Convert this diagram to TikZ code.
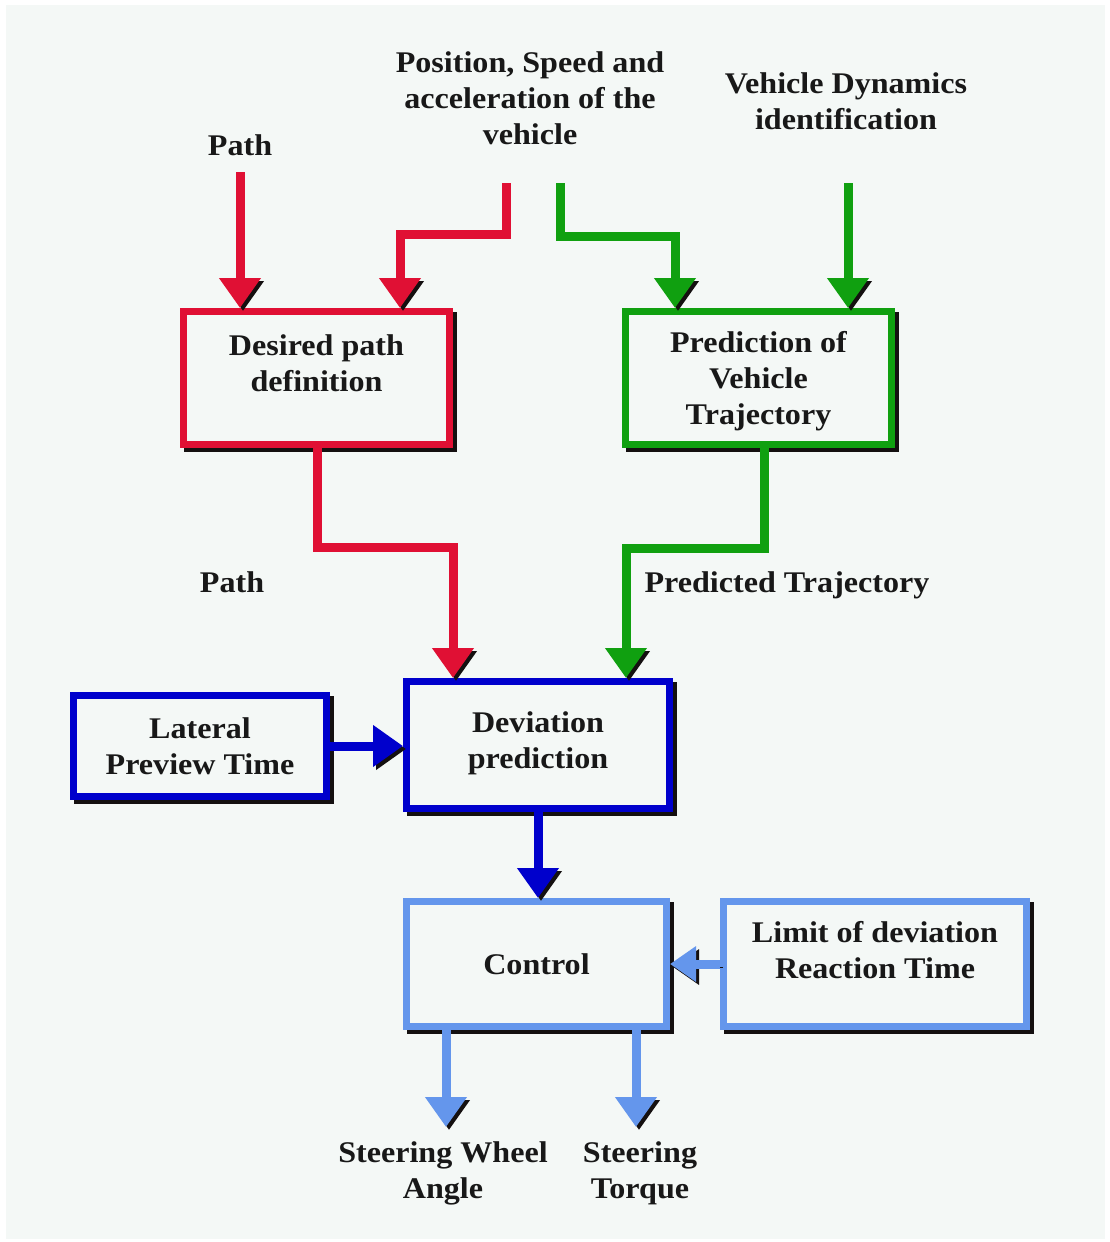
\documentclass[tikz,border=0pt]{standalone}
\usepackage{fontspec}
\setmainfont{Liberation Serif}[FakeStretch=1.07]
\usetikzlibrary{arrows.meta}
\definecolor{bgc}{RGB}{244,248,246}
\definecolor{cred}{RGB}{224,16,52}
\definecolor{cgreen}{RGB}{16,160,16}
\definecolor{cblue}{RGB}{0,0,204}
\definecolor{clight}{RGB}{100,150,236}
\definecolor{shad}{RGB}{20,16,16}
\definecolor{txt}{RGB}{24,24,24}
\begin{document}
\begin{tikzpicture}[x=1pt,y=-1pt,
  lbl/.style={font=\fontsize{30}{36}\selectfont\bfseries, text=txt, align=center, inner sep=0pt, text depth=0pt},
  box/.style={draw=#1, line width=7pt, fill=bgc, inner sep=0pt,
    font=\fontsize{30}{36}\selectfont\bfseries, text=txt, align=center, text depth=0pt,
    preaction={draw=shad, transform canvas={shift={(4pt,-4pt)}}}},
  conn/.style={draw=#1, line width=9pt, -{Triangle[width=40pt,length=30pt]},
    preaction={draw=shad, transform canvas={shift={(3pt,-3pt)}}}},
  smalltip/.style={-{Triangle[width=34pt,length=26pt]}}
]
\useasboundingbox (0,0) rectangle (1109,1242);
\fill[white] (0,0) rectangle (1109,1242);
\fill[bgc] (6,5) rectangle (1105,1239);

% labels
\node[lbl] (pathtop) at (240,145) {Path};
\node[lbl] (posspeed) at (530,98) {Position, Speed and\\acceleration of the\\vehicle};
\node[lbl] (vdyn) at (846,101) {Vehicle Dynamics\\identification};
\node[lbl] (pathmid) at (232,582) {Path};
\node[lbl] (predtraj) at (787,582) {Predicted Trajectory};
\node[lbl] (swangle) at (443,1170) {Steering Wheel\\Angle};
\node[lbl] (storque) at (640,1170) {Steering\\Torque};

% boxes
\node[box=cred, minimum width=266pt, minimum height=133pt, text depth=30pt] (desired) at (316.5,378) {Desired path\\definition};
\node[box=cgreen, minimum width=266pt, minimum height=133pt] (predict) at (758.5,378) {Prediction of\\Vehicle\\Trajectory};
\node[box=cblue, minimum width=253pt, minimum height=101pt] (lateral) at (200,746) {Lateral\\Preview Time};
\node[box=cblue, minimum width=263pt, minimum height=127pt, text depth=10pt] (deviation) at (538,745) {Deviation\\prediction};
\node[box=clight, minimum width=260pt, minimum height=125pt] (control) at (536.5,964) {Control};
\node[box=clight, minimum width=303pt, minimum height=125pt, text depth=28pt] (limit) at (875,964) {Limit of deviation\\Reaction Time};

% connectors
\coordinate (pathin) at (240,172);
\draw[conn=cred] (pathin) -- (pathin |- desired.north);

\coordinate (posr) at (506,183);
\coordinate (posrb) at (400,234);
\draw[conn=cred] (posr) -- (posr |- posrb) -- (posrb) -- (posrb |- desired.north);

\coordinate (posg) at (560,183);
\coordinate (posgb) at (675,236);
\draw[conn=cgreen] (posg) -- (posg |- posgb) -- (posgb) -- (posgb |- predict.north);

\coordinate (vdin) at (848,183);
\draw[conn=cgreen] (vdin) -- (vdin |- predict.north);

\coordinate (rm1) at (317,547);
\coordinate (rm2) at (453,547);
\draw[conn=cred] (desired.south -| rm1) -- (rm1) -- (rm2) -- (rm2 |- deviation.north);

\coordinate (gm1) at (764,548);
\coordinate (gm2) at (626,548);
\draw[conn=cgreen] (predict.south -| gm1) -- (gm1) -- (gm2) -- (gm2 |- deviation.north);

\draw[conn=cblue] (lateral.east) -- (lateral.east -| deviation.west);
\draw[conn=cblue] (deviation.south) -- (deviation.south |- control.north);

\draw[conn=clight, smalltip] (limit.west) -- (control.east);

\coordinate (swa) at (446,1127);
\coordinate (sta) at (636,1127);
\draw[conn=clight] (control.south -| swa) -- (swa);
\draw[conn=clight] (control.south -| sta) -- (sta);
\end{tikzpicture}
\end{document}
